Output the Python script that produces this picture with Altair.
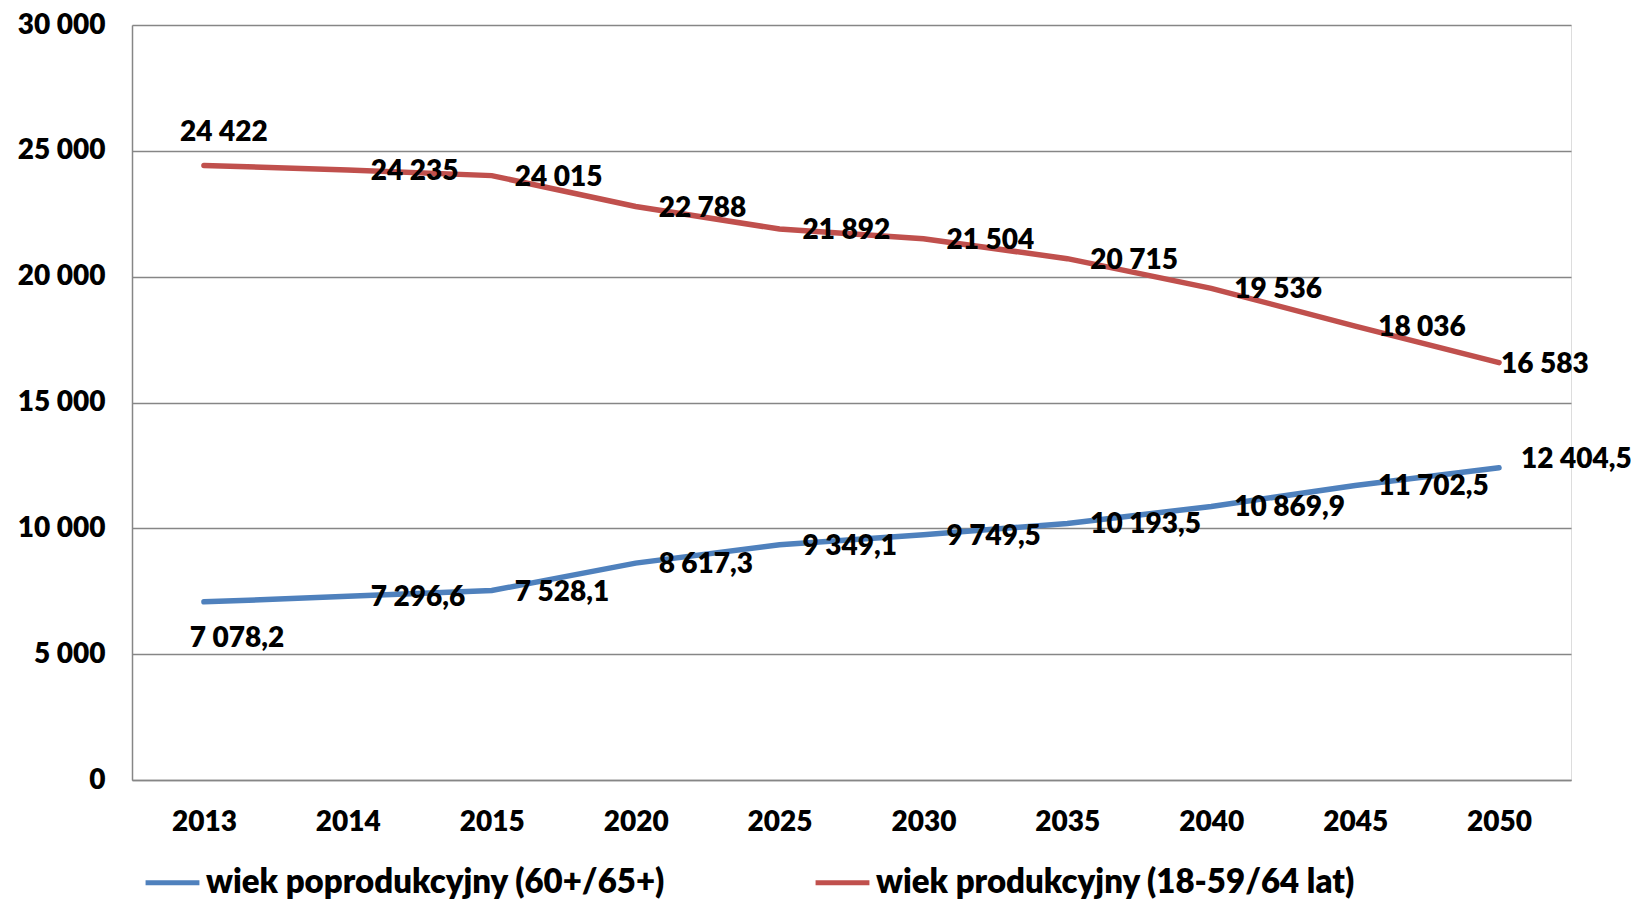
import altair as alt
import pandas as pd

years = ["2013", "2014", "2015", "2020", "2025", "2030", "2035", "2040", "2045", "2050"]
post_values = [7078.2, 7296.6, 7528.1, 8617.3, 9349.1, 9749.5, 10193.5, 10869.9, 11702.5, 12404.5]
prod_values = [24422, 24235, 24015, 22788, 21892, 21504, 20715, 19536, 18036, 16583]
series_names = ["wiek poprodukcyjny (60+/65+)", "wiek produkcyjny (18-59/64 lat)"]
series_codes = ["post", "prod"]
series_colors = ["#4F81BD", "#C0504D"]
y_ticks = [0, 5000, 10000, 15000, 20000, 25000, 30000]


def fmt_int(v):
    return f"{int(round(v)):,}".replace(",", " ")


def fmt_dec(v):
    return f"{v:,.1f}".replace(",", " ").replace(".", ",")


rows = []
for yr, v in zip(years, post_values):
    rows.append(dict(year=yr, series=series_names[0], code=series_codes[0], value=v, label=fmt_dec(v)))
for yr, v in zip(years, prod_values):
    rows.append(dict(year=yr, series=series_names[1], code=series_codes[1], value=v, label=fmt_int(v)))
df = pd.DataFrame(rows)

FONT = "Lato"
FW = 800
FS = 28
LEG_FS = 33
GRID = "#868686"
W, H = 1439, 755

x = alt.X(
    "year:N",
    sort=years,
    scale=alt.Scale(type="point", padding=0.5),
    axis=alt.Axis(
        title=None, labelAngle=0, labelFont=FONT, labelFontSize=FS, labelFontWeight=FW,
        labelColor="black", labelPadding=28, ticks=False, domainColor=GRID, domainWidth=1.5, grid=False,
    ),
)
y = alt.Y(
    "value:Q",
    scale=alt.Scale(domain=[0, 30000], nice=False),
    axis=alt.Axis(
        title=None, values=y_ticks,
        labelExpr="replace(format(datum.value, ','), regexp(',', 'g'), ' ')",
        labelFont=FONT, labelFontSize=FS, labelFontWeight=FW, labelColor="black",
        labelPadding=27, ticks=False, domainColor=GRID, domainWidth=1.5,
        grid=True, gridColor=GRID, gridWidth=1.3,
    ),
)
color = alt.Color(
    "series:N",
    scale=alt.Scale(domain=series_names, range=series_colors),
    legend=alt.Legend(
        title=None, orient="none", legendX=11, legendY=828, direction="horizontal",
        symbolType="stroke", symbolSize=2900, symbolStrokeWidth=5,
        labelFont=FONT, labelFontSize=LEG_FS, labelFontWeight=FW, labelColor="black",
        columnPadding=139, labelOffset=4, padding=0, labelLimit=900,
    ),
)

base = alt.Chart(df)
lines = base.mark_line(strokeWidth=5.5, strokeCap="round").encode(x=x, y=y, color=color)


def text_layer(cond, **kw):
    return base.transform_filter(cond).mark_text(
        font=FONT, fontSize=FS, fontWeight=FW, color="black", **kw
    ).encode(x=alt.X("year:N", sort=years), y="value:Q", text="label:N")


main = text_layer(
    "!(datum.year == '2013') && !(datum.year == '2050')",
    align="left", baseline="middle", dx=23, dy=2,
)
prod_first = text_layer("datum.year == '2013' && datum.code == 'prod'", align="center", baseline="middle", dx=20, dy=-32)
post_first = text_layer("datum.year == '2013' && datum.code == 'post'", align="center", baseline="middle", dx=33, dy=37)
prod_last = text_layer("datum.year == '2050' && datum.code == 'prod'", align="left", baseline="middle", dx=2, dy=2)
post_last = text_layer("datum.year == '2050' && datum.code == 'post'", align="left", baseline="middle", dx=22, dy=-8)

chart = (
    alt.layer(lines, main, prod_first, post_first, prod_last, post_last)
    .properties(
        width=W, height=H,
        autosize=alt.AutoSizeParams(type="none"),
        padding={"left": 124, "top": 17, "right": 60, "bottom": 119},
    )
    .configure_view(stroke=None)
    .configure(background="white")
)

chart.save("out.html", embed_options={"renderer": "svg", "actions": False})
